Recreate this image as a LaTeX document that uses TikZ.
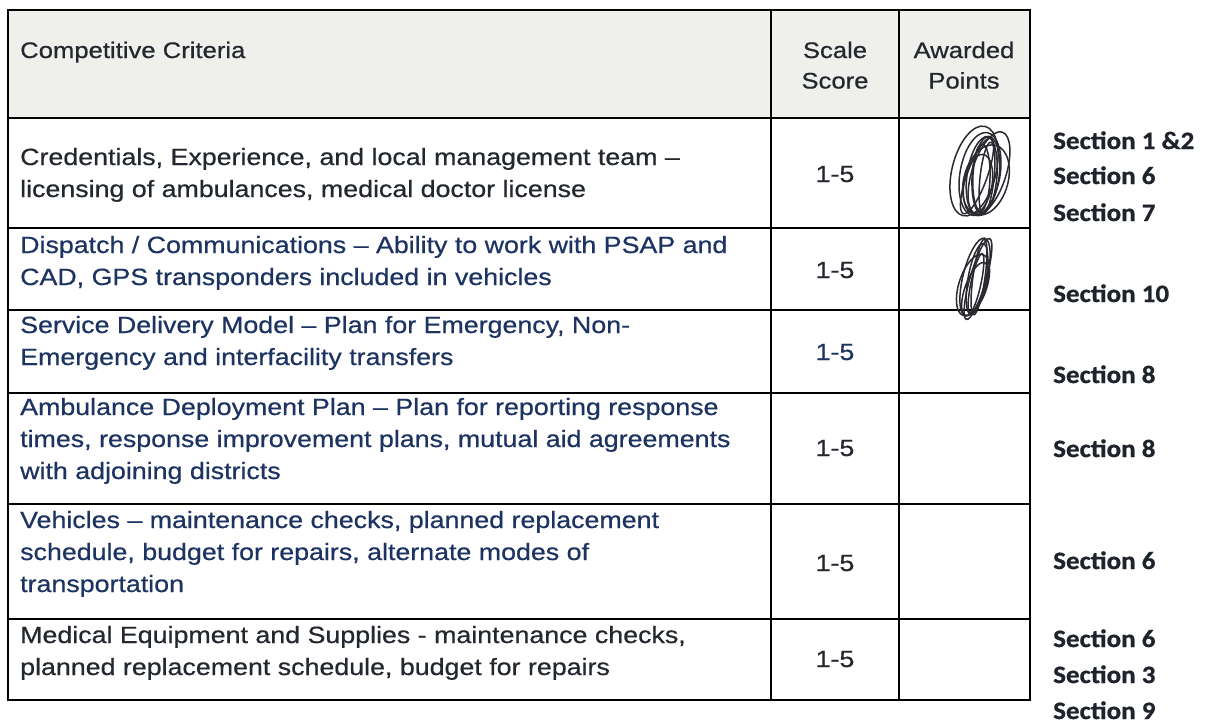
\documentclass[tikz,border=0pt]{standalone}
\usepackage{fontspec}
\setmainfont[FakeStretch=1.14,FakeBold=0.6]{Liberation Sans}
\newfontfamily\secfont[FakeStretch=1.08,FakeBold=0.8]{Carlito}
\definecolor{hdrfill}{HTML}{EFEFEB}
\definecolor{darktxt}{HTML}{23282F}
\definecolor{navytxt}{HTML}{1D3463}
\definecolor{sectxt}{HTML}{1F242C}
\definecolor{pen}{HTML}{2A2A30}
\tikzset{
  grid/.style={line width=1.6pt, black},
  celltxt/.style={anchor=base west, align=left, inner sep=0pt, font=\fontsize{23.5}{32}\selectfont},
  hdrtxt/.style={align=center, inner sep=0pt, font=\fontsize{22.5}{30.5}\selectfont, text=darktxt},
  scoretxt/.style={anchor=base, inner sep=0pt, font=\fontsize{23.5}{32}\selectfont},
  sectxtstyle/.style={anchor=base west, inner sep=0pt, text=sectxt, font=\secfont\bfseries\fontsize{25}{30}\selectfont},
  scrib/.style={draw=pen, line width=1.5pt}
}
\begin{document}
\begin{tikzpicture}[x=1pt,y=-1pt]
\useasboundingbox (0,0) rectangle (1210,724);
\fill[white] (0,0) rectangle (1210,724);
% header fill
\fill[hdrfill] (8,10) rectangle (1030,118);
% grid
\draw[grid] (8,10) rectangle (1030,700);
\foreach \yy in {118,228,310,393,504,619} \draw[grid] (8,\yy) -- (1030,\yy);
\draw[grid] (771,10) -- (771,700);
\draw[grid] (899,10) -- (899,700);
% header (base anchor = baseline of last line)
\node[anchor=base west, inner sep=0pt, font=\fontsize{22.5}{31}\selectfont, text=darktxt] (hcrit) at (20,58) {Competitive Criteria};
\node[hdrtxt, anchor=base] (hscale) at (835,88.5) {Scale\\Score};
\node[hdrtxt, anchor=base] (hawd) at (964,88.5) {Awarded\\Points};
% criteria (base anchor = baseline of last line)
\node[celltxt, text=darktxt] (c1) at (20,197) {Credentials, Experience, and local management team –\\licensing of ambulances, medical doctor license};
\node[celltxt, text=navytxt] (c2) at (20,285) {Dispatch / Communications – Ability to work with PSAP and\\CAD, GPS transponders included in vehicles};
\node[celltxt, text=navytxt] (c3) at (20,365) {Service Delivery Model – Plan for Emergency, Non-\\Emergency and interfacility transfers};
\node[celltxt, text=navytxt] (c4) at (20,479) {Ambulance Deployment Plan – Plan for reporting response\\times, response improvement plans, mutual aid agreements\\with adjoining districts};
\node[celltxt, text=navytxt] (c5) at (20,592) {Vehicles – maintenance checks, planned replacement\\schedule, budget for repairs, alternate modes of\\transportation};
\node[celltxt, text=darktxt] (c6) at (20,675) {Medical Equipment and Supplies - maintenance checks,\\planned replacement schedule, budget for repairs};
% scores
\node[scoretxt, text=darktxt] (s1) at (835,182) {1-5};
\node[scoretxt, text=darktxt] (s2) at (835,278) {1-5};
\node[scoretxt, text=navytxt] (s3) at (835,360) {1-5};
\node[scoretxt, text=darktxt] (s4) at (835,456) {1-5};
\node[scoretxt, text=darktxt] (s5) at (835,571) {1-5};
\node[scoretxt, text=darktxt] (s6) at (835,667) {1-5};
% scribbles
\foreach \rx/\ry/\dx/\dy/\ang in {22/46/-6/-1/-14, 20/42/0/2/-10, 16/40/3/4/-8, 12/38/5/3/-4, 22/36/6/8/-16, 9/34/1/6/-2, 17/43/9/1/-18, 14/30/-2/12/-10, 10/40/-3/4/-20, 7/36/7/6/-6} {
  \draw[scrib] ([shift={(\dx,\dy)}]980,172) ellipse [x radius=\rx pt, y radius=\ry pt, rotate=\ang];
}
\foreach \rx/\ry/\dx/\dy/\ang in {12/40/0/0/-14, 9/36/2/2/-10, 14/32/-2/8/-18, 6/38/4/0/-8, 10/28/0/12/-20, 5/30/1/6/-12, 8/42/3/2/-16} {
  \draw[scrib] ([shift={(\dx,\dy)}]975,277) ellipse [x radius=\rx pt, y radius=\ry pt, rotate=\ang];
}
% section labels
\node[sectxtstyle] (l1) at (1053,149) {Section 1 \&2};
\node[sectxtstyle] (l2) at (1053,184) {Section 6};
\node[sectxtstyle] (l3) at (1053,221) {Section 7};
\node[sectxtstyle] (l4) at (1053,302) {Section 10};
\node[sectxtstyle] (l5) at (1053,383) {Section 8};
\node[sectxtstyle] (l6) at (1053,457) {Section 8};
\node[sectxtstyle] (l7) at (1053,569) {Section 6};
\node[sectxtstyle] (l8) at (1053,647) {Section 6};
\node[sectxtstyle] (l9) at (1053,683) {Section 3};
\node[sectxtstyle] (l10) at (1053,719) {Section 9};
\end{tikzpicture}
\end{document}
